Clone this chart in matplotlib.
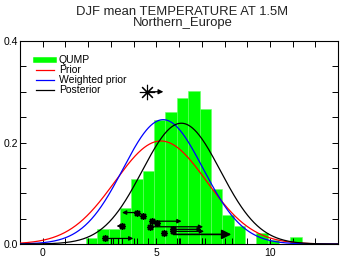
import numpy as np
import matplotlib
matplotlib.use("Agg")
import matplotlib.pyplot as plt
from matplotlib.lines import Line2D
from matplotlib.ticker import MultipleLocator, FormatStrFormatter

plt.rcParams['font.family'] = ['Liberation Sans', 'DejaVu Sans']

# ---- data ----
bin_left = [1.9, 2.4, 2.9, 3.4, 3.9, 4.4, 4.9, 5.4, 5.9, 6.4, 6.9, 7.4, 7.9, 8.4, 8.9, 9.4, 9.9, 10.4, 10.9]
bin_height = [0.012, 0.029, 0.029, 0.0715, 0.129, 0.144, 0.244, 0.260, 0.287, 0.302, 0.266, 0.108, 0.057, 0.036, 0.0, 0.021, 0.008, 0.0, 0.013]
bin_width = 0.5

# Gaussian curves: (mean, sd, peak height)
prior_params = (5.2, 2.02, 0.203)
wprior_params = (5.3, 1.76, 0.245)
post_params = (6.1, 1.72, 0.238)

# asterisk markers with arrows: star x, arrow end x, y
arrow_start = [4.14, 4.80, 4.72, 5.75, 5.75, 2.75, 3.48]
arrow_end = [3.49, 6.11, 7.06, 7.00, 7.10, 3.99, 3.25]
arrow_y = [0.062, 0.045, 0.034, 0.029, 0.025, 0.011, 0.0355]
big_arrow = (5.75, 8.30, 0.019)
extra_star_x = [4.43, 5.02, 5.35]
extra_star_y = [0.055, 0.042, 0.022]
top_star = (4.58, 5.31, 0.300)
rug_x = [3.1, 3.3, 3.5, 4.15, 4.65, 5.9, 6.05, 7.0, 7.15, 8.35]

fig = plt.figure(figsize=(3.44, 2.61), dpi=100)
ax = fig.add_axes([0.058, 0.065, 0.925, 0.778])

ax.bar(bin_left, bin_height, width=bin_width, align='edge', color='#00ff00',
       edgecolor='#66ff66', linewidth=0.4, zorder=1)

xs = np.linspace(-1, 13, 600)
def gauss(p):
    m, s, a = p
    return a * np.exp(-0.5 * ((xs - m) / s) ** 2)

ax.plot(xs, gauss(prior_params), color='#ff0000', lw=0.9, zorder=3)
ax.plot(xs, gauss(wprior_params), color='#0000ff', lw=0.9, zorder=3)
ax.plot(xs, gauss(post_params), color='#000000', lw=0.9, zorder=3)

star = (8, 2, 0)
for x0, x1, y in zip(arrow_start, arrow_end, arrow_y):
    ax.annotate('', xy=(x1, y), xytext=(x0, y),
                arrowprops=dict(arrowstyle='-|>', color='black', lw=0.9,
                                mutation_scale=6, shrinkA=0, shrinkB=0), zorder=5)
    ax.plot([x0], [y], marker=star, ms=5, mew=1.0, color='black', zorder=6)
ax.annotate('', xy=(big_arrow[1], big_arrow[2]), xytext=(big_arrow[0], big_arrow[2]),
            arrowprops=dict(arrowstyle='-|>', color='black', lw=1.2,
                            mutation_scale=14, shrinkA=0, shrinkB=0), zorder=5)
ax.plot(extra_star_x, extra_star_y, ls='none', marker=star, ms=5, mew=1.0,
        color='black', zorder=6)
ax.annotate('', xy=(top_star[1], top_star[2]), xytext=(top_star[0], top_star[2]),
            arrowprops=dict(arrowstyle='-|>', color='black', lw=0.9,
                            mutation_scale=7, shrinkA=0, shrinkB=0), zorder=5)
ax.plot([top_star[0]], [top_star[2]], marker=star, ms=11, mew=0.8, color='black', zorder=6)

ax.vlines(rug_x, 0, 0.011, color='black', lw=0.7, zorder=4)

ax.set_xlim(-1, 13)
ax.set_ylim(0, 0.4)
ax.xaxis.set_major_locator(MultipleLocator(5))
ax.xaxis.set_minor_locator(MultipleLocator(1))
ax.yaxis.set_major_locator(MultipleLocator(0.2))
ax.yaxis.set_minor_locator(MultipleLocator(0.05))
ax.yaxis.set_major_formatter(FormatStrFormatter('%.1f'))
ax.tick_params(which='both', direction='in', top=True, right=True,
               length=4, width=0.7, labelsize=7.5)
ax.tick_params(axis='y', pad=1.5)
ax.tick_params(axis='x', pad=3)
for sp in ax.spines.values():
    sp.set_linewidth(0.8)

handles = [Line2D([], [], color='#00ff00', lw=4),
           Line2D([], [], color='#ff0000', lw=0.9),
           Line2D([], [], color='#0000ff', lw=0.9),
           Line2D([], [], color='#000000', lw=0.9)]
labels = ['QUMP', 'Prior', 'Weighted prior', 'Posterior']
ax.legend(handles, labels, loc='upper left', bbox_to_anchor=(0.052, 0.93),
          frameon=False, fontsize=7.5, handlelength=1.7, handletextpad=0.45,
          labelspacing=0.0, borderpad=0, borderaxespad=0)

fig.text(0.53, 0.955, 'DJF mean TEMPERATURE AT 1.5M', ha='center', va='center',
         fontsize=9.4, color='#222222')
fig.text(0.53, 0.913, 'Northern_Europe', ha='center', va='center',
         fontsize=9.4, color='#222222')

fig.savefig('out.png', dpi=100)
